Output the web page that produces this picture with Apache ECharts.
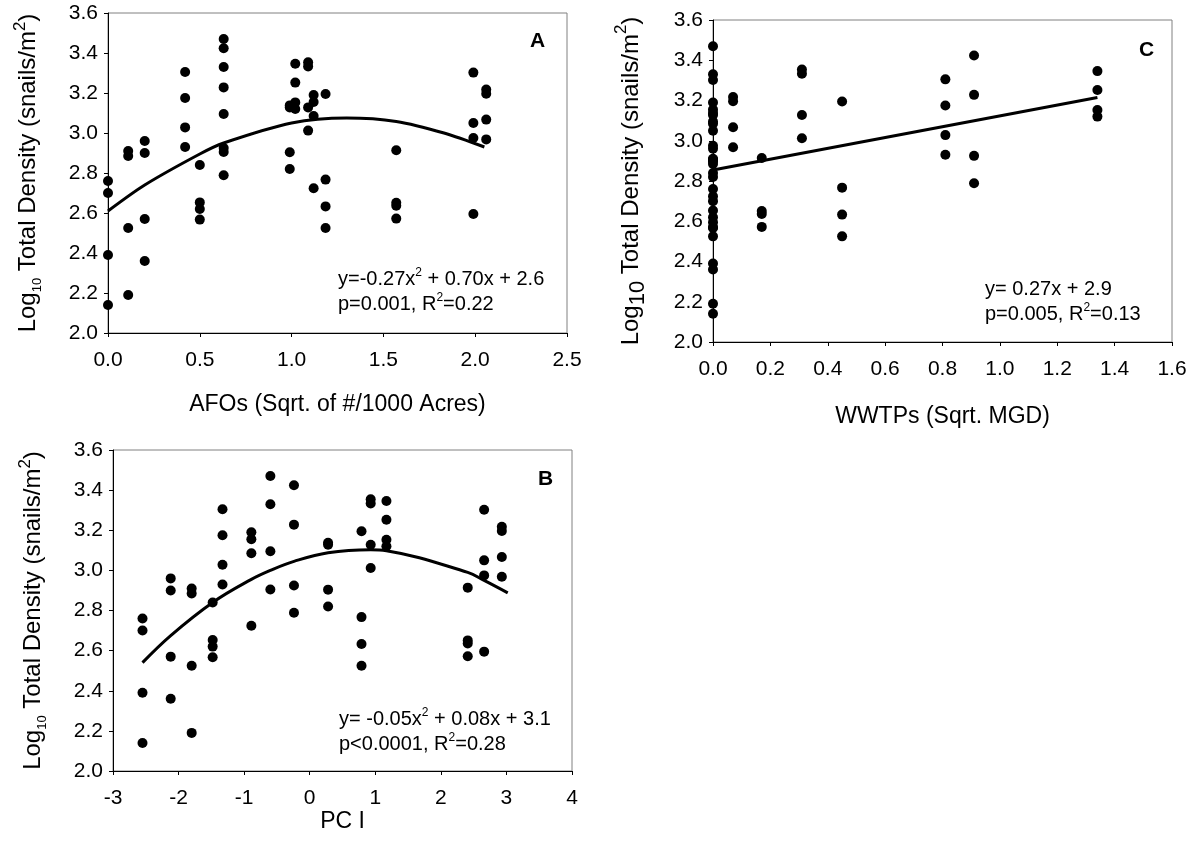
<!DOCTYPE html>
<html>
<head>
<meta charset="utf-8">
<script src="https://cdn.jsdelivr.net/npm/echarts@6/dist/echarts.min.js"></script>
<style>
  html, body { margin: 0; padding: 0; background: #fff; }
  #chart { width: 1193px; height: 846px; }
</style>
</head>
<body>
<div id="chart"></div>
<script>
// four samples per site, log10 total density (snails/m2)
const siteDensity = [
  [2.76, 2.70, 2.39, 2.14],
  [2.96, 2.90, 2.57, 2.36],
  [2.91, 2.885, 2.525, 2.19],
  [2.84, 2.653, 2.62, 2.567],
  [3.305, 3.175, 3.028, 2.93],
  [3.19, 3.155, 3.085, 2.724],
  [3.47, 3.33, 3.095, 2.905],
  [3.424, 3.228, 2.925, 2.789],
  [3.138, 3.128, 2.904, 2.82],
  [3.195, 2.767, 2.633, 2.525],
  [3.354, 3.333, 3.128, 3.012],
  [3.346, 3.252, 3.153, 3.12],
  [2.914, 2.651, 2.636, 2.572],
  [3.302, 3.05, 2.975, 2.595],
  [3.217, 3.196, 3.067, 2.968]
];
// site predictors
const afoSqrt = [0, 0.2, 0.11, 0.5, 0.42, 1.12, 0.63, 0.63, 0.99, 1.185, 1.09, 1.02, 1.57, 1.99, 2.06];
const pcOne = [-2.55, -2.12, -1.8, -1.48, -1.33, -0.89, -0.6, -0.24, 0.28, 0.79, 0.93, 1.17, 2.41, 2.66, 2.93];
const wwtpSqrt = [0, 0, 0, 0, 0.81, 0, 0, 0.91, 0, 0.45, 0.31, 1.34, 0.17, 0, 0.07];

// trend lines
const fitAx = [0, 0.2, 0.5, 0.63, 1.0, 1.3, 1.57, 1.83, 2.05];
const fitAy = [2.61, 2.74, 2.895, 2.95, 3.05, 3.075, 3.058, 3.0, 2.93];
const fitBx = [-2.55, -2.12, -1.48, -0.89, -0.6, -0.24, 0.28, 0.93, 1.17, 2.41, 2.66, 3.02];
const fitBy = [2.54, 2.675, 2.84, 2.955, 3.0, 3.045, 3.088, 3.103, 3.098, 2.99, 2.95, 2.888];
const fitCx = [0, 1.34];
const fitCy = [2.855, 3.215];

const yTicks = { min: 2.0, max: 3.6, interval: 0.2 };

const FONT = 'Liberation Sans, Arial, sans-serif';

function pairs(xs, ys) {
  return xs.map((x, i) => [x, ys[i]]);
}
function scatterPoints(xs) {
  const out = [];
  siteDensity.forEach((vals, i) => vals.forEach(v => out.push([xs[i], v])));
  return out;
}

function yAxisCfg(gridIndex, bigSub) {
  return {
    type: 'value',
    gridIndex: gridIndex,
    min: yTicks.min,
    max: yTicks.max,
    interval: yTicks.interval,
    name: bigSub
      ? '{a|Log}{b|10}{a| Total Density (snails/m}{p|2}{a|)}'
      : '{a|Log}{s|10}{a| Total Density (snails/m}{p|2}{a|)}',
    nameLocation: 'middle',
    nameGap: 64,
    nameRotate: 90,
    nameTextStyle: {
      color: '#000',
      fontFamily: FONT,
      rich: {
        a: { fontSize: 24, lineHeight: 32, fontFamily: FONT, color: '#000' },
        s: { fontSize: 13, lineHeight: 32, verticalAlign: 'bottom', fontFamily: FONT, color: '#000' },
        b: { fontSize: 22, lineHeight: 36, verticalAlign: 'bottom', fontFamily: FONT, color: '#000' },
        p: { fontSize: 17, lineHeight: 32, verticalAlign: 'top', fontFamily: FONT, color: '#000' }
      }
    },
    axisLine: { show: true, onZero: false, lineStyle: { color: '#000', width: 1 } },
    axisTick: { show: true, length: 4, lineStyle: { color: '#000' } },
    axisLabel: {
      color: '#000', fontSize: 21, fontFamily: FONT, margin: 10,
      formatter: v => v.toFixed(1)
    },
    splitLine: { show: false }
  };
}

function xAxisCfg(gridIndex, min, max, interval, name, gap, digits) {
  return {
    type: 'value',
    gridIndex: gridIndex,
    min: min,
    max: max,
    interval: interval,
    name: name,
    nameLocation: 'middle',
    nameGap: gap,
    nameTextStyle: { color: '#000', fontSize: 23, fontFamily: FONT },
    axisLine: { show: true, onZero: false, lineStyle: { color: '#000', width: 1 } },
    axisTick: { show: true, length: 4, lineStyle: { color: '#000' } },
    axisLabel: {
      color: '#000', fontSize: 21, fontFamily: FONT, margin: 17,
      formatter: v => v.toFixed(digits)
    },
    splitLine: { show: false }
  };
}

function note(text, left, top) {
  return {
    text: text, left: left, top: top, padding: 0,
    textStyle: {
      color: '#000', fontSize: 20, fontWeight: 'normal', fontFamily: FONT, lineHeight: 25,
      rich: { p: { fontSize: 12, verticalAlign: 'top', lineHeight: 25, fontFamily: FONT, color: '#000' } }
    }
  };
}
function letter(text, left, top) {
  return {
    text: text, left: left, top: top, padding: 0,
    textStyle: { color: '#000', fontSize: 21, fontWeight: 'bold', fontFamily: FONT }
  };
}

const dotStyle = { color: '#000', opacity: 1 };
const lineStyle = { color: '#000', width: 3 };

const option = {
  backgroundColor: '#fff',
  animation: false,
  title: [
    letter('A', 530, 31),
    letter('B', 538, 469),
    letter('C', 1139, 40),
    note('y=-0.27x{p|2} + 0.70x + 2.6\np=0.001, R{p|2}=0.22', 338, 267),
    note('y= -0.05x{p|2} + 0.08x + 3.1\np<0.0001, R{p|2}=0.28', 339, 707),
    note('y= 0.27x + 2.9\np=0.005, R{p|2}=0.13', 985, 277)
  ],
  grid: [
    { left: 108, top: 13, width: 459, height: 320, show: true, borderColor: '#808080', borderWidth: 1 },
    { left: 113, top: 450, width: 459, height: 321, show: true, borderColor: '#808080', borderWidth: 1 },
    { left: 713, top: 20, width: 459, height: 322, show: true, borderColor: '#808080', borderWidth: 1 }
  ],
  xAxis: [
    xAxisCfg(0, 0, 2.5, 0.5, 'AFOs (Sqrt. of #/1000 Acres)', 60, 1),
    xAxisCfg(1, -3, 4, 1, 'PC I', 38, 0),
    xAxisCfg(2, 0, 1.6, 0.2, 'WWTPs (Sqrt. MGD)', 63, 1)
  ],
  yAxis: [
    yAxisCfg(0, false),
    yAxisCfg(1, false),
    yAxisCfg(2, true)
  ],
  series: [
    { type: 'scatter', xAxisIndex: 0, yAxisIndex: 0, symbolSize: 10, itemStyle: dotStyle, data: scatterPoints(afoSqrt) },
    { type: 'line', xAxisIndex: 0, yAxisIndex: 0, symbol: 'none', smooth: 0.3, lineStyle: lineStyle, data: pairs(fitAx, fitAy) },
    { type: 'scatter', xAxisIndex: 1, yAxisIndex: 1, symbolSize: 10, itemStyle: dotStyle, data: scatterPoints(pcOne) },
    { type: 'line', xAxisIndex: 1, yAxisIndex: 1, symbol: 'none', smooth: 0.4, lineStyle: lineStyle, data: pairs(fitBx, fitBy) },
    { type: 'scatter', xAxisIndex: 2, yAxisIndex: 2, symbolSize: 10, itemStyle: dotStyle, data: scatterPoints(wwtpSqrt) },
    { type: 'line', xAxisIndex: 2, yAxisIndex: 2, symbol: 'none', lineStyle: lineStyle, data: pairs(fitCx, fitCy) }
  ]
};

const chart = echarts.init(document.getElementById('chart'), null, { renderer: 'canvas' });
chart.setOption(option);
</script>
</body>
</html>
